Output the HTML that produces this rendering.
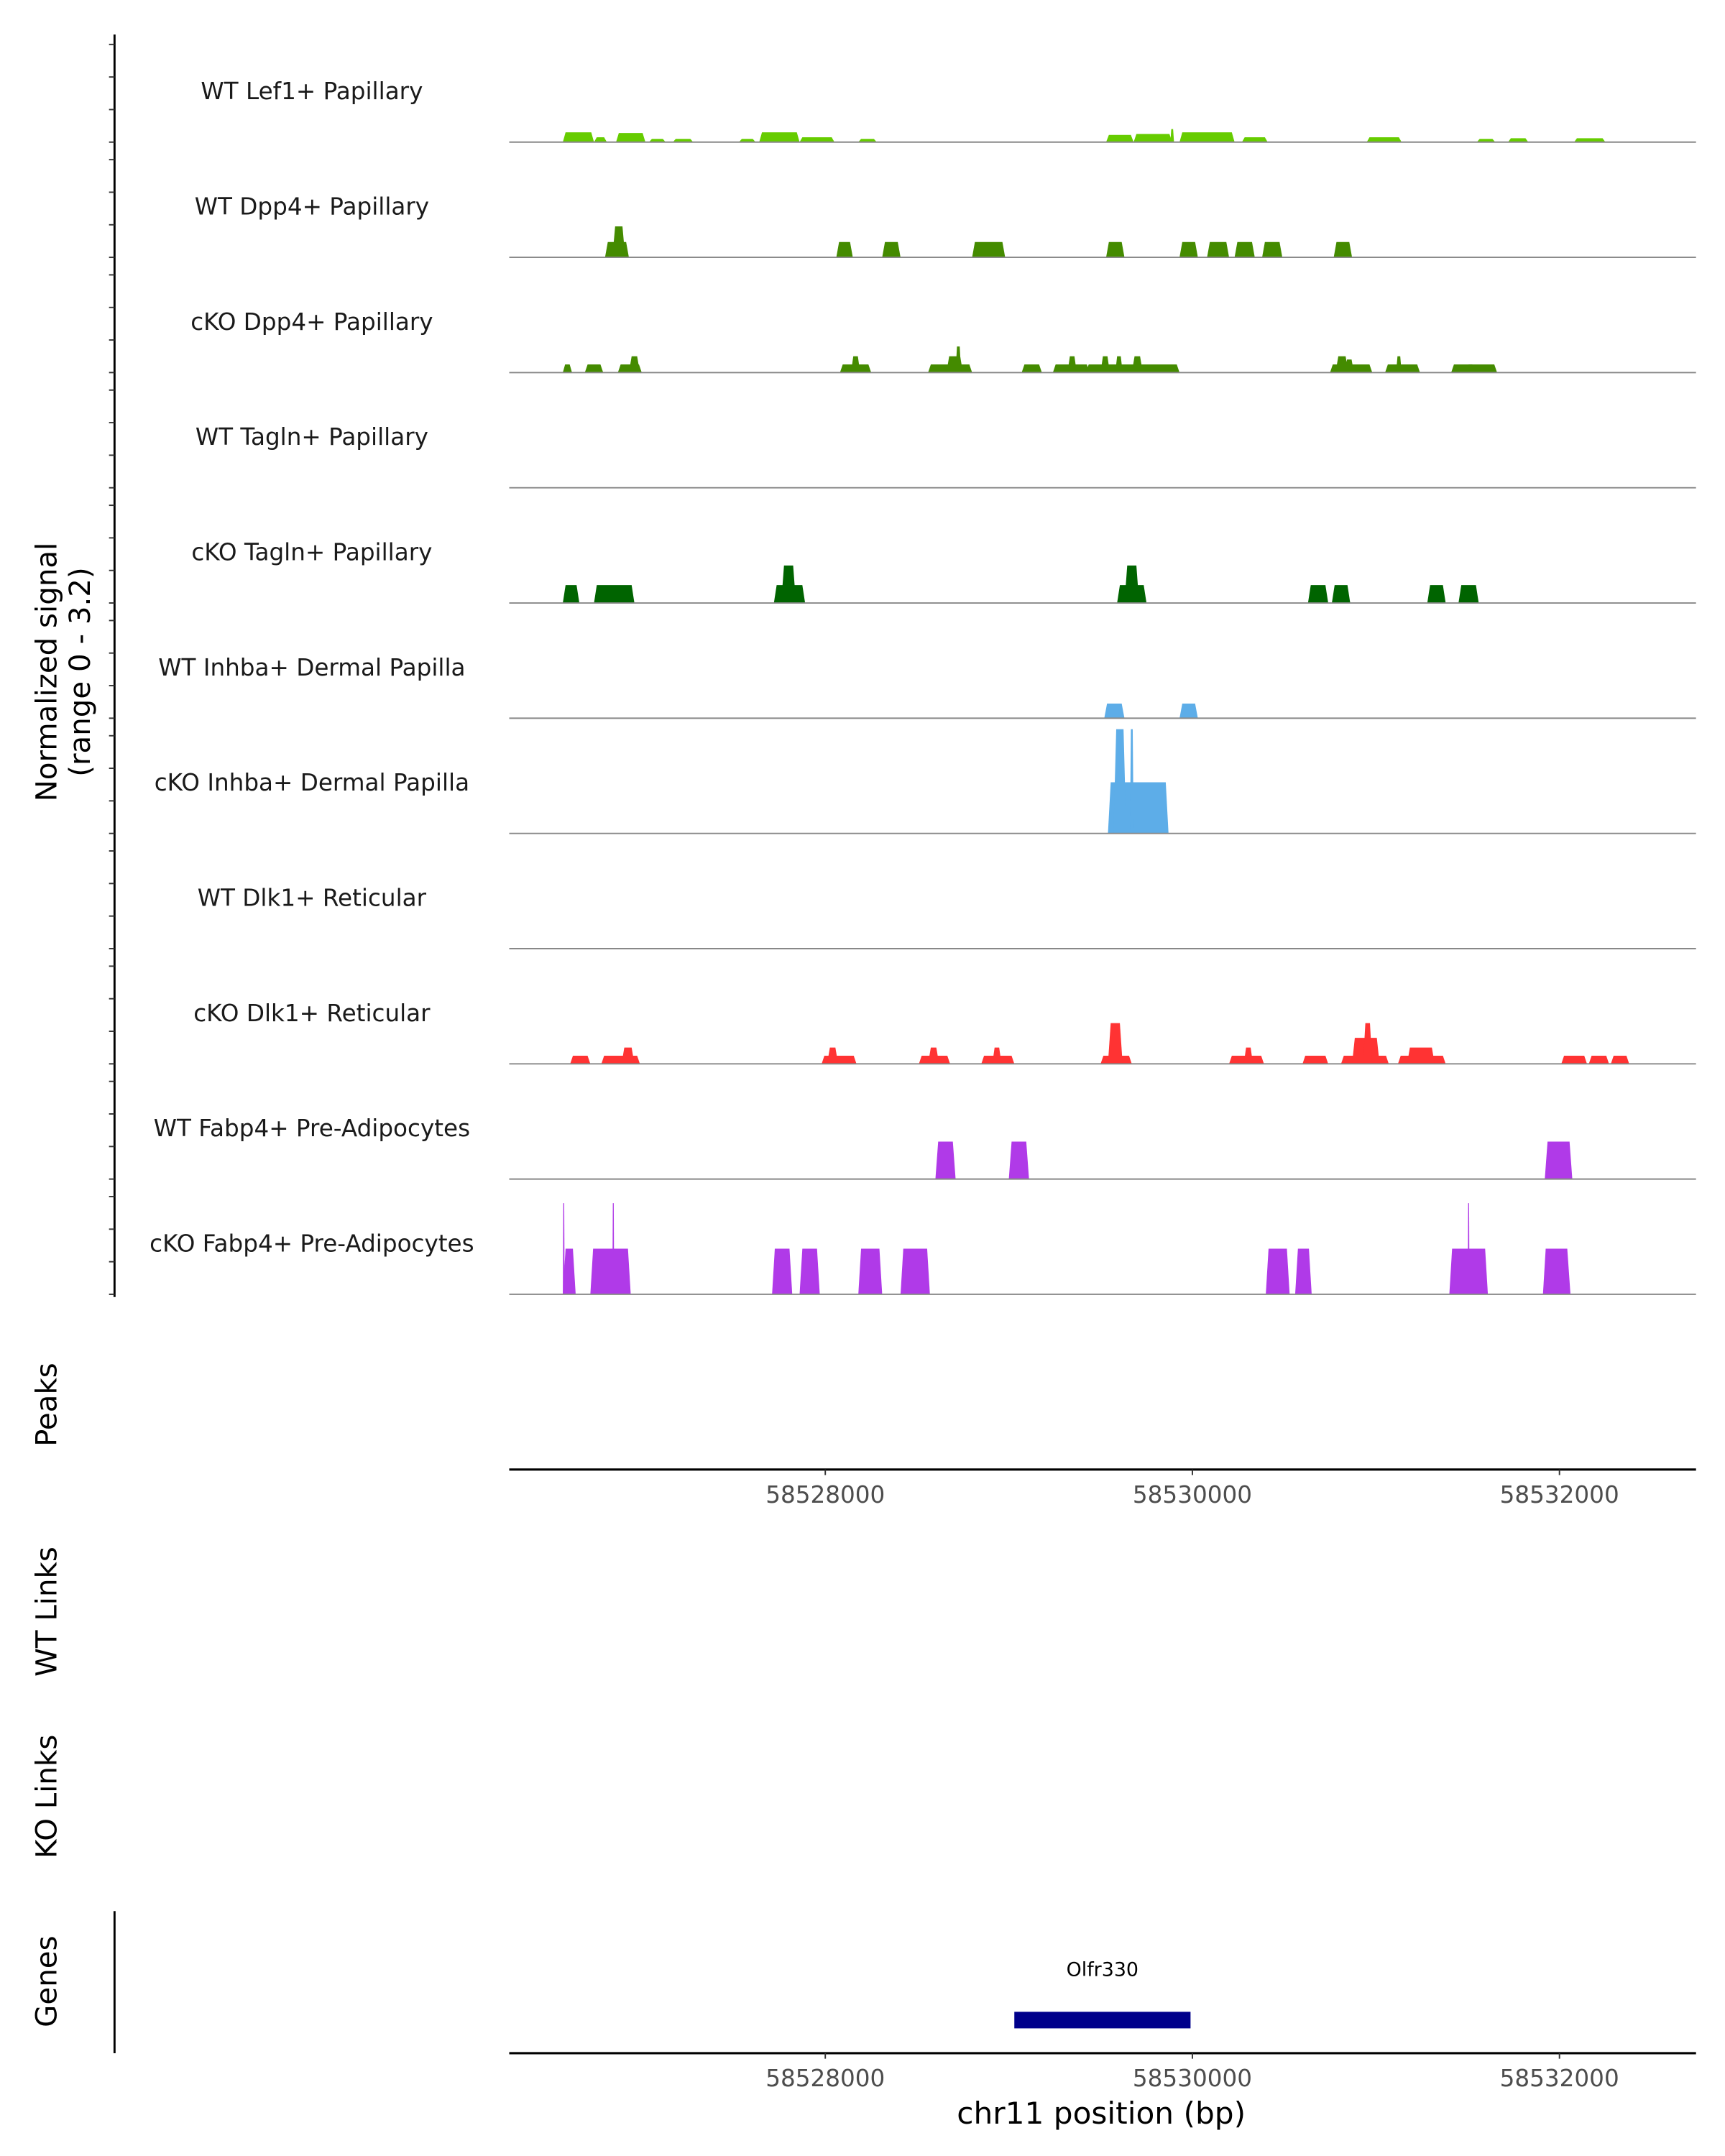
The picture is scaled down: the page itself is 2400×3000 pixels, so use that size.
<!DOCTYPE html>
<html><head><meta charset="utf-8">
<style>html,body{margin:0;padding:0;background:#fff}svg{display:block}text{font-family:"DejaVu Sans","Liberation Sans",sans-serif}</style>
</head><body>
<svg id="chart" width="2400" height="3000" viewBox="0 0 1250 1562.5" xmlns="http://www.w3.org/2000/svg"></svg>
<script>
// Track names
const trackNames = ["WT Lef1+ Papillary","WT Dpp4+ Papillary","cKO Dpp4+ Papillary","WT Tagln+ Papillary","cKO Tagln+ Papillary","WT Inhba+ Dermal Papilla","cKO Inhba+ Dermal Papilla","WT Dlk1+ Reticular","cKO Dlk1+ Reticular","WT Fabp4+ Pre-Adipocytes","cKO Fabp4+ Pre-Adipocytes"];
const trackColors = ["#66cc00","#448b00","#448b00","#006400","#006400","#5dade8","#5dade8","#ff3333","#ff3333","#b03ae8","#b03ae8"];
// Signal segments per track: start (kb), end (kb), value
const t0s=[58526.57,58526.74,58526.86,58527.04,58527.17,58527.53,58527.64,58527.86,58528.18,58529.53,58529.68,58529.88,58529.93,58530.27,58530.95,58531.55,58531.72,58532.08];
const t0e=[58526.74,58526.81,58527.02,58527.13,58527.28,58527.62,58527.86,58528.05,58528.28,58529.68,58529.89,58529.90,58530.23,58530.41,58531.14,58531.65,58531.83,58532.25];
const t0v=[0.3,0.15,0.28,0.1,0.1,0.1,0.3,0.15,0.1,0.22,0.25,0.4,0.3,0.15,0.15,0.1,0.12,0.12];
const t1s=[58526.80,58526.84,58528.06,58528.31,58528.80,58529.53,58529.93,58530.08,58530.23,58530.38,58530.77];
const t1e=[58526.93,58526.91,58528.15,58528.41,58528.98,58529.63,58530.03,58530.20,58530.34,58530.49,58530.87];
const t1v=[0.47,0.95,0.47,0.47,0.47,0.47,0.47,0.47,0.47,0.47,0.47];
const t2s=[58526.57,58526.69,58526.87,58526.93,58528.08,58528.14,58528.56,58528.66,58528.71,58529.07,58529.24,58529.32,58529.42,58529.50,58529.58,58529.67,58529.70,58530.75,58530.78,58530.83,58531.05,58531.11,58531.41,58531.49];
const t2e=[58526.62,58526.79,58527.00,58526.99,58528.25,58528.19,58528.80,58528.75,58528.74,58529.18,58529.44,58529.37,58529.70,58529.55,58529.62,58529.73,58529.93,58530.98,58530.85,58530.88,58531.24,58531.14,58531.54,58531.66];
const t2v=[0.25,0.25,0.25,0.5,0.25,0.5,0.25,0.5,0.8,0.25,0.25,0.5,0.25,0.5,0.5,0.5,0.25,0.25,0.5,0.4,0.25,0.5,0.25,0.25];
const t3s=[];const t3e=[];const t3v=[];
const t4s=[58526.57,58526.74,58527.72,58527.76,58529.59,58529.63,58530.63,58530.76,58531.28,58531.45];
const t4e=[58526.66,58526.96,58527.89,58527.84,58529.75,58529.71,58530.74,58530.86,58531.38,58531.56];
const t4v=[0.55,0.55,0.55,1.15,0.55,1.15,0.55,0.55,0.55,0.55];
const t5s=[58529.52,58529.93];const t5e=[58529.63,58530.03];const t5v=[0.45,0.45];
const t6s=[58529.54,58529.57,58529.66];const t6e=[58529.87,58529.64,58529.68];const t6v=[1.57,3.2,3.2];
const t7s=[];const t7e=[];const t7v=[];
const t8s=[58526.61,58526.78,58526.89,58527.98,58528.01,58528.51,58528.56,58528.85,58528.91,58529.50,58529.54,58530.20,58530.28,58530.60,58530.81,58530.87,58530.93,58531.12,58531.17,58532.01,58532.16,58532.28];
const t8e=[58526.72,58526.99,58526.96,58528.17,58528.07,58528.68,58528.62,58529.03,58528.96,58529.67,58529.62,58530.39,58530.33,58530.74,58531.07,58531.02,58530.98,58531.38,58531.32,58532.15,58532.27,58532.38];
const t8v=[0.25,0.25,0.5,0.25,0.5,0.25,0.5,0.25,0.5,0.25,1.25,0.25,0.5,0.25,0.25,0.8,1.25,0.25,0.5,0.25,0.25,0.25];
const t9s=[58528.60,58529.00,58531.92];const t9e=[58528.71,58529.11,58532.07];const t9v=[1.15,1.15,1.15];
const t10s=[58526.57,58526.57,58526.72,58526.84,58527.71,58527.86,58528.18,58528.41,58530.40,58530.56,58531.40,58531.50,58532.06,58531.91];
const t10e=[58526.64,58526.58,58526.94,58526.85,58527.82,58527.97,58528.31,58528.57,58530.53,58530.65,58531.61,58531.51,58531.99,58532.03];
const t10v=[1.4,2.8,1.4,2.8,1.4,1.4,1.4,1.4,1.4,1.4,1.4,2.8,1.4,1.4];
const trackStarts=[t0s,t1s,t2s,t3s,t4s,t5s,t6s,t7s,t8s,t9s,t10s];
const trackEnds=[t0e,t1e,t2e,t3e,t4e,t5e,t6e,t7e,t8e,t9e,t10e];
const trackVals=[t0v,t1v,t2v,t3v,t4v,t5v,t6v,t7v,t8v,t9v,t10v];
const xTicks=[58528000,58530000,58532000];
const geneStart=58529030, geneEnd=58529990;

const NS="http://www.w3.org/2000/svg";
const svg=document.getElementById('chart');
function mk(tag,attrs,parent){const e=document.createElementNS(NS,tag);for(const k in attrs)e.setAttribute(k,attrs[k]);(parent||svg).appendChild(e);return e;}
const X0=369,X1=1229,bpLo=58526278,bpHi=58532744;
function xs(bp){return X0+(bp-bpLo)/(bpHi-bpLo)*(X1-X0);}
const base0=103,trackH=83.5,unitPx=23.6;
function ys(i,v){return base0+i*trackH-v*unitPx;}

let ax=mk('line',{x1:83,y1:25,x2:83,y2:940,stroke:'#000','stroke-width':1.5});


for(let i=0;i<trackNames.length;i++){
  for(let k=0;k<4;k++){
    const y=ys(i,k);
    const tk=mk('line',{x1:79,y1:y,x2:83,y2:y,stroke:'#333','stroke-width':1});
    
    
  }
  const lb=mk('text',{x:226,y:ys(i,0)-31,'font-size':17,'text-anchor':'middle',fill:'#1a1a1a'});
  lb.textContent=trackNames[i];
  
  
  const s=trackStarts[i],e=trackEnds[i],v=trackVals[i];
  for(let j=0;j<s.length;j++){
    const a=xs(s[j]*1000),b=xs(e[j]*1000),yb=ys(i,0),yt=ys(i,v[j]);
    const sl=Math.min(2,(b-a)/4);
    const p=mk('polygon',{points:`${a},${yb} ${a+sl},${yt} ${b-sl},${yt} ${b},${yb}`,fill:trackColors[i]});
    
    
  }
  const bl=mk('line',{x1:X0,y1:ys(i,0),x2:X1,y2:ys(i,0),stroke:'#888','stroke-width':1});
  
  
}
function xAxis(y,name){
  const l=mk('line',{x1:X0,y1:y,x2:X1,y2:y,stroke:'#000','stroke-width':1.6});
  
  
  for(const t of xTicks){
    const tk=mk('line',{x1:xs(t),y1:y,x2:xs(t),y2:y+4,stroke:'#333','stroke-width':1});
    
    
    const tl=mk('text',{x:xs(t),y:y+24,'font-size':17,'text-anchor':'middle',fill:'#4d4d4d'});
    tl.textContent=String(t);
    
    
  }
}
xAxis(1065,'peaks-x-axis');
xAxis(1488,'genes-x-axis');
const gl=mk('line',{x1:83,y1:1385,x2:83,y2:1488,stroke:'#000','stroke-width':1.5});


const gb=mk('rect',{x:xs(geneStart),y:1458,width:xs(geneEnd)-xs(geneStart),height:12,fill:'#00008b'});


const gt=mk('text',{x:(xs(geneStart)+xs(geneEnd))/2,y:1432,'font-size':14,'text-anchor':'middle',fill:'#000'});
gt.textContent='Olfr330';


const xt=mk('text',{x:798,y:1539,'font-size':22,'text-anchor':'middle',fill:'#000'});
xt.textContent='chr11 position (bp)';


function vlab(x,y,txt,name){
  const t=mk('text',{x:x,y:y,'font-size':21,'text-anchor':'middle',fill:'#000',transform:`rotate(-90 ${x} ${y})`});
  t.textContent=txt;
  
  
}
vlab(41,487,'Normalized signal','y-axis-title');
vlab(65,487,'(range 0 - 3.2)','y-axis-subtitle');
vlab(41,1018,'Peaks','peaks-title');
vlab(41,1168,'WT Links','wt-links-title');
vlab(41,1302,'KO Links','ko-links-title');
vlab(41,1436,'Genes','genes-title');
</script>
</body></html>
